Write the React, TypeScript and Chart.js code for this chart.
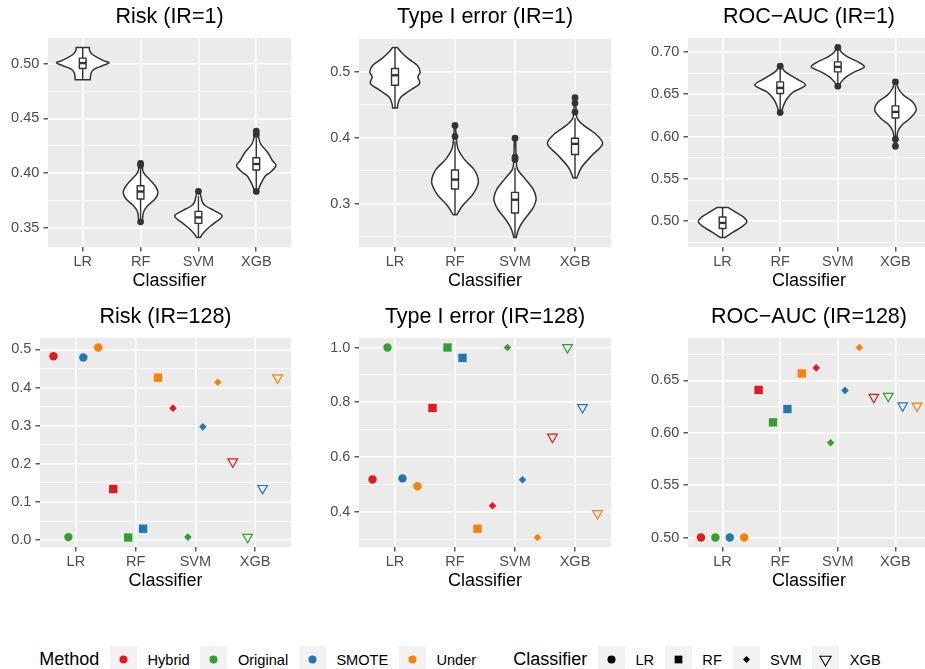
import React, { useEffect, useRef } from "react";
import { Chart, registerables } from "chart.js";

Chart.register(...registerables);

const FONT = "'Liberation Sans', Arial, Helvetica, sans-serif";

// ---------------- shared categories ----------------
const classifiers = ["LR", "RF", "SVM", "XGB"];
const methods = ["Hybrid", "Original", "SMOTE", "Under"];
const methodColors = ["#E31A1C", "#33A02C", "#1F78B4", "#FF7F00"];

// ---------------- IR = 1 : Risk ----------------
const riskIR1Ticks = ["0.35", "0.40", "0.45", "0.50"];
// violin profiles: [value, half-width in category units]
const riskIR1LR = [[0.5149, 0.115], [0.5119, 0.12], [0.5089, 0.16], [0.5058, 0.25], [0.5027, 0.37], [0.5009, 0.455], [0.4982, 0.34], [0.4951, 0.2], [0.4921, 0.15], [0.489, 0.135], [0.4853, 0.13]];
const riskIR1RF = [[0.4087, 0.02], [0.4005, 0.05], [0.3944, 0.15], [0.3883, 0.25], [0.3822, 0.3], [0.3761, 0.25], [0.37, 0.12], [0.3639, 0.05], [0.3553, 0.03]];
const riskIR1SVM = [[0.3831, 0.02], [0.3792, 0.04], [0.3731, 0.07], [0.37, 0.12], [0.367, 0.22], [0.3639, 0.33], [0.3609, 0.41], [0.3578, 0.37], [0.3548, 0.29], [0.3487, 0.15], [0.3441, 0.07], [0.3409, 0.03]];
const riskIR1XGB = [[0.4383, 0.02], [0.4323, 0.04], [0.4262, 0.08], [0.4185, 0.2], [0.4112, 0.28], [0.4066, 0.34], [0.4005, 0.24], [0.3975, 0.16], [0.3914, 0.09], [0.3853, 0.04], [0.3831, 0.02]];
// boxes: [lower whisker, q1, median, q3, upper whisker]
const riskIR1Boxes = [[0.4853, 0.4957, 0.5006, 0.5052, 0.5149], [0.358, 0.3761, 0.383, 0.3883, 0.405], [0.3409, 0.3538, 0.3593, 0.3648, 0.379], [0.386, 0.4027, 0.4082, 0.4139, 0.432]];
const riskIR1Outliers = [[], [0.4087, 0.407, 0.3553], [0.3831], [0.4383, 0.4353, 0.3831]];

// ---------------- IR = 1 : Type I error ----------------
const type1IR1Ticks = ["0.3", "0.4", "0.5"];
const type1IR1LR = [[0.5371, 0.04], [0.5304, 0.1], [0.5203, 0.22], [0.5102, 0.37], [0.5, 0.42], [0.4924, 0.38], [0.4823, 0.41], [0.4721, 0.25], [0.462, 0.1], [0.4518, 0.05], [0.4452, 0.04]];
const type1IR1RF = [[0.4189, 0.01], [0.4021, 0.02], [0.3834, 0.05], [0.3682, 0.15], [0.353, 0.31], [0.3428, 0.37], [0.3326, 0.39], [0.3225, 0.35], [0.3123, 0.28], [0.2971, 0.125], [0.2834, 0.03]];
const type1IR1SVM = [[0.3995, 0.01], [0.3706, 0.02], [0.353, 0.04], [0.3378, 0.17], [0.3225, 0.3], [0.3098, 0.35], [0.3021, 0.34], [0.2921, 0.29], [0.2743, 0.14], [0.2616, 0.06], [0.2489, 0.02]];
const type1IR1XGB = [[0.461, 0.01], [0.4391, 0.02], [0.4291, 0.04], [0.4189, 0.145], [0.4062, 0.34], [0.391, 0.46], [0.3732, 0.28], [0.3554, 0.11], [0.3393, 0.03]];
const type1IR1Boxes = [[0.4452, 0.4798, 0.495, 0.5052, 0.5371], [0.2834, 0.3225, 0.3367, 0.3514, 0.395], [0.2489, 0.286, 0.3062, 0.3174, 0.355], [0.3393, 0.3747, 0.391, 0.3995, 0.43]];
const type1IR1Outliers = [[], [0.4189, 0.4021], [0.3995, 0.3706, 0.3671], [0.461, 0.4528, 0.4391]];

// ---------------- IR = 1 : ROC-AUC ----------------
const rocIR1Ticks = ["0.50", "0.55", "0.60", "0.65", "0.70"];
const rocIR1LR = [[0.5162, 0.1], [0.511, 0.22], [0.5051, 0.36], [0.4992, 0.42], [0.4933, 0.33], [0.4874, 0.19], [0.4808, 0.04]];
const rocIR1RF = [[0.6831, 0.02], [0.6764, 0.09], [0.6686, 0.27], [0.6607, 0.44], [0.6528, 0.23], [0.645, 0.12], [0.637, 0.06], [0.6284, 0.02]];
const rocIR1SVM = [[0.7052, 0.02], [0.7, 0.06], [0.6941, 0.17], [0.6882, 0.35], [0.6823, 0.46], [0.6764, 0.29], [0.6705, 0.145], [0.6646, 0.06], [0.6595, 0.02]];
const rocIR1XGB = [[0.6646, 0.02], [0.6568, 0.05], [0.6489, 0.14], [0.6409, 0.3], [0.6311, 0.36], [0.6213, 0.25], [0.6134, 0.11], [0.6055, 0.04], [0.5886, 0.01]];
const rocIR1Boxes = [[0.4808, 0.4914, 0.498, 0.5051, 0.5162], [0.631, 0.6509, 0.6575, 0.6646, 0.68], [0.662, 0.6764, 0.6823, 0.6882, 0.702], [0.6, 0.622, 0.6291, 0.6362, 0.66]];
const rocIR1Outliers = [[], [0.6831, 0.6284], [0.7052, 0.6595], [0.6646, 0.5969, 0.5886]];

// ---------------- IR = 128 (values per classifier LR, RF, SVM, XGB) ----------------
const riskIR128Ticks = ["0.0", "0.1", "0.2", "0.3", "0.4", "0.5"];
const riskIR128Hybrid = [0.482, 0.134, 0.346, 0.206];
const riskIR128Original = [0.008, 0.007, 0.008, 0.008];
const riskIR128SMOTE = [0.479, 0.03, 0.297, 0.136];
const riskIR128Under = [0.505, 0.426, 0.414, 0.426];

const type1IR128Ticks = ["0.4", "0.6", "0.8", "1.0"];
const type1IR128Hybrid = [0.518, 0.779, 0.422, 0.673];
const type1IR128Original = [1.0, 1.0, 1.0, 1.0];
const type1IR128SMOTE = [0.522, 0.962, 0.517, 0.781];
const type1IR128Under = [0.493, 0.338, 0.306, 0.394];

const rocIR128Ticks = ["0.50", "0.55", "0.60", "0.65"];
const rocIR128Hybrid = [0.5, 0.641, 0.662, 0.634];
const rocIR128Original = [0.5, 0.61, 0.5905, 0.635];
const rocIR128SMOTE = [0.5, 0.6227, 0.6405, 0.626];
const rocIR128Under = [0.5, 0.6567, 0.6815, 0.6257];

// ---------------- styling / layout ----------------
const CANVAS_H = 293;
const X_AXIS_H = 46;
const RIGHT_PAD = 8;
const BOX_HALF = 0.058;
const DODGE = 0.25;
const shapeStyles = ["circle", "rect", "rectRot", "triangle"];
const shapeRadius = [4.2, 5.9, 3.8, 5.6];
const shapeRotation = [0, 0, 0, 180];

type Profile = number[][];
type PanelSpec = {
  kind: "violin" | "points";
  title: string;
  ticks: string[];
  canvasLeft: number;
  top: number;
  plotLeft: number;
  plotRight: number;
  violins?: Profile[];
  boxes?: number[][];
  outliers?: number[][];
  series?: number[][];
};

const panels: PanelSpec[] = [
  { kind: "violin", title: "Risk (IR=1)", ticks: riskIR1Ticks, canvasLeft: 0, top: 0, plotLeft: 48, plotRight: 291,
    violins: [riskIR1LR, riskIR1RF, riskIR1SVM, riskIR1XGB], boxes: riskIR1Boxes, outliers: riskIR1Outliers },
  { kind: "violin", title: "Type I error (IR=1)", ticks: type1IR1Ticks, canvasLeft: 311, top: 0, plotLeft: 359, plotRight: 611,
    violins: [type1IR1LR, type1IR1RF, type1IR1SVM, type1IR1XGB], boxes: type1IR1Boxes, outliers: type1IR1Outliers },
  { kind: "violin", title: "ROC\u2212AUC (IR=1)", ticks: rocIR1Ticks, canvasLeft: 640, top: 0, plotLeft: 688, plotRight: 930,
    violins: [rocIR1LR, rocIR1RF, rocIR1SVM, rocIR1XGB], boxes: rocIR1Boxes, outliers: rocIR1Outliers },
  { kind: "points", title: "Risk (IR=128)", ticks: riskIR128Ticks, canvasLeft: 0, top: 300, plotLeft: 40, plotRight: 291,
    series: [riskIR128Hybrid, riskIR128Original, riskIR128SMOTE, riskIR128Under] },
  { kind: "points", title: "Type I error (IR=128)", ticks: type1IR128Ticks, canvasLeft: 311, top: 300, plotLeft: 359, plotRight: 611,
    series: [type1IR128Hybrid, type1IR128Original, type1IR128SMOTE, type1IR128Under] },
  { kind: "points", title: "ROC\u2212AUC (IR=128)", ticks: rocIR128Ticks, canvasLeft: 640, top: 300, plotLeft: 688, plotRight: 930,
    series: [rocIR128Hybrid, rocIR128Original, rocIR128SMOTE, rocIR128Under] },
];

function yRange(spec: PanelSpec): [number, number] {
  let lo = Infinity;
  let hi = -Infinity;
  const add = (v: number) => { lo = Math.min(lo, v); hi = Math.max(hi, v); };
  if (spec.kind === "violin") {
    spec.violins!.forEach((p) => p.forEach(([v]) => add(v)));
    spec.outliers!.forEach((o) => o.forEach(add));
    spec.boxes!.forEach((b) => b.forEach(add));
  } else {
    spec.series!.forEach((s) => s.forEach(add));
  }
  const pad = (hi - lo) * 0.05;
  return [lo - pad, hi + pad];
}

function yTickList(labels: string[], lo: number, hi: number) {
  const majors = labels.map(Number);
  const half = (majors[1] - majors[0]) / 2;
  const out: any[] = [];
  for (let k = -2; k <= majors.length * 2; k++) {
    const v = +(majors[0] + k * half).toFixed(6);
    if (v < lo || v > hi) continue;
    const minor = k % 2 !== 0;
    out.push({ value: v, minor, text: minor ? "" : labels[k / 2] ?? "" });
  }
  return out;
}

const panelBg = {
  id: "panelBg",
  beforeDraw(chart: any) {
    const { ctx, chartArea } = chart;
    ctx.save();
    ctx.fillStyle = "#EBEBEB";
    ctx.fillRect(chartArea.left, chartArea.top, chartArea.right - chartArea.left, chartArea.bottom - chartArea.top);
    ctx.restore();
  },
};

function spline(ctx: CanvasRenderingContext2D, pts: number[][]) {
  for (let i = 0; i < pts.length - 1; i++) {
    const p0 = pts[i - 1] || pts[i];
    const p1 = pts[i];
    const p2 = pts[i + 1];
    const p3 = pts[i + 2] || pts[i + 1];
    ctx.bezierCurveTo(
      p1[0] + (p2[0] - p0[0]) / 6, p1[1] + (p2[1] - p0[1]) / 6,
      p2[0] - (p3[0] - p1[0]) / 6, p2[1] - (p3[1] - p1[1]) / 6,
      p2[0], p2[1]
    );
  }
}

function violinPlugin(spec: PanelSpec) {
  return {
    id: "violins",
    beforeDatasetsDraw(chart: any) {
      const { ctx, chartArea, scales } = chart;
      const xs = scales.x;
      const ys = scales.y;
      ctx.save();
      ctx.beginPath();
      ctx.rect(chartArea.left, chartArea.top, chartArea.right - chartArea.left, chartArea.bottom - chartArea.top);
      ctx.clip();
      ctx.strokeStyle = "#333333";
      ctx.lineJoin = "round";
      spec.violins!.forEach((prof, i) => {
        const c = i + 1;
        const right = prof.map(([v, w]) => [xs.getPixelForValue(c + w), ys.getPixelForValue(v)]);
        const left = prof.map(([v, w]) => [xs.getPixelForValue(c - w), ys.getPixelForValue(v)]).reverse();
        ctx.beginPath();
        ctx.moveTo(left[left.length - 1][0], left[left.length - 1][1]);
        ctx.lineTo(right[0][0], right[0][1]);
        spline(ctx, right);
        ctx.lineTo(left[0][0], left[0][1]);
        spline(ctx, left);
        ctx.closePath();
        ctx.fillStyle = "#FFFFFF";
        ctx.fill();
        ctx.lineWidth = 1.5;
        ctx.stroke();

        const [lo, q1, med, q3, hi] = spec.boxes![i];
        const xc = xs.getPixelForValue(c);
        ctx.beginPath();
        ctx.moveTo(xc, ys.getPixelForValue(hi));
        ctx.lineTo(xc, ys.getPixelForValue(q3));
        ctx.moveTo(xc, ys.getPixelForValue(q1));
        ctx.lineTo(xc, ys.getPixelForValue(lo));
        ctx.lineWidth = 1.4;
        ctx.stroke();
        const xl = xs.getPixelForValue(c - BOX_HALF);
        const xr = xs.getPixelForValue(c + BOX_HALF);
        const yt = ys.getPixelForValue(q3);
        const yb = ys.getPixelForValue(q1);
        ctx.fillStyle = "#FFFFFF";
        ctx.fillRect(xl, yt, xr - xl, yb - yt);
        ctx.strokeRect(xl, yt, xr - xl, yb - yt);
        ctx.beginPath();
        ctx.moveTo(xl, ys.getPixelForValue(med));
        ctx.lineTo(xr, ys.getPixelForValue(med));
        ctx.lineWidth = 2.4;
        ctx.stroke();
      });
      ctx.restore();
    },
  };
}

function buildConfig(spec: PanelSpec): any {
  const [lo, hi] = yRange(spec);
  const yt = yTickList(spec.ticks, lo, hi);
  const tickFont = { family: FONT, size: 14.5 };
  let datasets: any[];
  const plugins: any[] = [panelBg];
  if (spec.kind === "violin") {
    const pts: { x: number; y: number }[] = [];
    spec.outliers!.forEach((o, i) => o.forEach((v) => pts.push({ x: i + 1, y: v })));
    datasets = [{
      data: pts,
      pointRadius: 3.4,
      pointBackgroundColor: "#333333",
      pointBorderWidth: 0,
      pointHoverRadius: 3.4,
    }];
    plugins.push(violinPlugin(spec));
  } else {
    datasets = methods.map((m, mi) => {
      const col = methodColors[mi];
      return {
        label: m,
        data: spec.series![mi].map((v, ci) => ({ x: ci + 1 + (mi - 1.5) * DODGE, y: v })),
        pointStyle: shapeStyles,
        pointRadius: shapeRadius,
        pointHoverRadius: shapeRadius,
        pointRotation: shapeRotation,
        pointBackgroundColor: [col, col, col, "rgba(0,0,0,0)"],
        pointBorderColor: col,
        pointBorderWidth: [0, 0, 0, 1.2],
      };
    });
  }
  return {
    type: "scatter",
    data: { datasets },
    plugins,
    options: {
      animation: false,
      responsive: false,
      maintainAspectRatio: false,
      devicePixelRatio: 1,
      events: [],
      layout: { padding: { left: 0, right: RIGHT_PAD, top: 0, bottom: 0 } },
      plugins: {
        legend: { display: false },
        tooltip: { enabled: false },
        title: {
          display: true,
          fullSize: false,
          text: spec.title,
          color: "#000000",
          font: { family: FONT, size: 21.5, weight: "normal", lineHeight: 1.2 },
          padding: { top: 3.8, bottom: 8.4 },
        },
      },
      scales: {
        x: {
          type: "linear",
          min: 0.4,
          max: 4.6,
          bounds: "data",
          afterBuildTicks: (s: any) => { s.ticks = classifiers.map((_, i) => ({ value: i + 1 })); },
          afterFit: (s: any) => { s.height = X_AXIS_H; },
          ticks: {
            autoSkip: false,
            maxRotation: 0,
            padding: 1.5,
            color: "#4D4D4D",
            font: tickFont,
            callback: (v: any) => classifiers[Math.round(Number(v)) - 1] ?? "",
          },
          grid: { color: "#FFFFFF", lineWidth: 1.6, tickColor: "#333333", tickWidth: 1.2, tickLength: 4.5 },
          border: { display: false },
          title: {
            display: true,
            text: "Classifier",
            color: "#000000",
            font: { family: FONT, size: 18, lineHeight: 1.2 },
            padding: { top: 0, bottom: 1.5 },
          },
        },
        y: {
          type: "linear",
          min: lo,
          max: hi,
          bounds: "data",
          afterBuildTicks: (s: any) => { s.ticks = yt.map((t) => ({ ...t })); },
          afterFit: (s: any) => { s.width = spec.plotLeft - spec.canvasLeft; },
          ticks: {
            autoSkip: false,
            padding: 4.2,
            color: "#4D4D4D",
            font: tickFont,
            callback: (_v: any, i: number, ticks: any[]) => ticks[i].text,
          },
          grid: {
            color: "#FFFFFF",
            lineWidth: (c: any) => (c.tick && c.tick.minor ? 0.8 : 1.6),
            tickColor: (c: any) => (c.tick && c.tick.minor ? "rgba(0,0,0,0)" : "#333333"),
            tickWidth: 1.2,
            tickLength: 4.5,
          },
          border: { display: false },
        },
      },
    },
  };
}

function Panel({ spec }: { spec: PanelSpec }) {
  const ref = useRef<HTMLCanvasElement>(null);
  const width = spec.plotRight - spec.canvasLeft + RIGHT_PAD;
  useEffect(() => {
    if (!ref.current) return;
    const chart = new Chart(ref.current, buildConfig(spec));
    return () => chart.destroy();
  }, [spec]);
  return (
    <canvas
      ref={ref}
      width={width}
      height={CANVAS_H}
      style={{ position: "absolute", left: spec.canvasLeft, top: spec.top, width, height: CANVAS_H }}
    />
  );
}

const KEY = 27;
function Key({ children }: { children: React.ReactNode }) {
  return (
    <svg width={KEY} height={KEY} style={{ display: "block", flex: "none" }}>
      <rect width={KEY} height={KEY} fill="#F2F2F2" />
      {children}
    </svg>
  );
}

function classifierShape(i: number) {
  const c = KEY / 2;
  if (i === 0) return <circle cx={c} cy={c} r={4} fill="#000" />;
  if (i === 1) return <rect x={c - 3.85} y={c - 3.85} width={7.7} height={7.7} fill="#000" />;
  if (i === 2) return <polygon points={`${c},${c - 3.5} ${c + 3.5},${c} ${c},${c + 3.5} ${c - 3.5},${c}`} fill="#000" />;
  return <polygon points={`${c - 5.6},${c - 3.3} ${c + 5.6},${c - 3.3} ${c},${c + 6.4}`} fill="none" stroke="#000" strokeWidth={1.1} />;
}

const legendTitleStyle: React.CSSProperties = { fontSize: 18, color: "#000", marginRight: 10.7, whiteSpace: "nowrap" };
const legendLabelStyle: React.CSSProperties = { fontSize: 14.6, color: "#000", marginLeft: 10.5, marginRight: 10.7, whiteSpace: "nowrap" };

function Legend() {
  const row: React.CSSProperties = { position: "absolute", top: 646, height: KEY, display: "flex", alignItems: "center", fontFamily: FONT };
  return (
    <>
      <div style={{ ...row, left: 39.3 }}>
        <span style={legendTitleStyle}>Method</span>
        {methods.map((m, i) => (
          <React.Fragment key={m}>
            <Key><circle cx={KEY / 2} cy={KEY / 2} r={4} fill={methodColors[i]} /></Key>
            <span style={legendLabelStyle}>{m}</span>
          </React.Fragment>
        ))}
      </div>
      <div style={{ ...row, left: 513.3 }}>
        <span style={legendTitleStyle}>Classifier</span>
        {classifiers.map((c, i) => (
          <React.Fragment key={c}>
            <Key>{classifierShape(i)}</Key>
            <span style={legendLabelStyle}>{c}</span>
          </React.Fragment>
        ))}
      </div>
    </>
  );
}

export default function App() {
  return (
    <div style={{ position: "fixed", left: 0, top: 0, width: 925, height: 669, overflow: "hidden", background: "#FFFFFF" }}>
      {panels.map((p) => (
        <Panel key={p.title} spec={p} />
      ))}
      <Legend />
    </div>
  );
}
